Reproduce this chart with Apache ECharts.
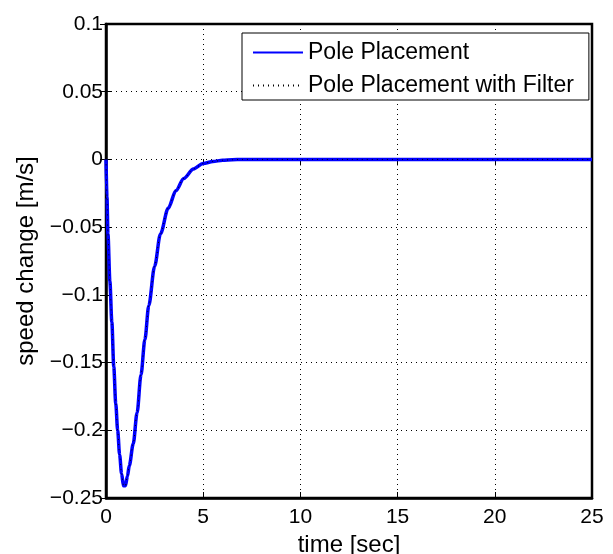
<!DOCTYPE html>
<html>
<head>
<meta charset="utf-8">
<script src="https://cdn.jsdelivr.net/npm/echarts@6/dist/echarts.min.js"></script>
<style>
  html, body { margin: 0; padding: 0; background: #fff; }
  #chart { width: 613px; height: 554px; }
</style>
</head>
<body>
<div id="chart"></div>
<script>
// values
var timeSec = [0, 0.05, 0.1, 0.2, 0.3, 0.4, 0.5, 0.6, 0.7, 0.8, 0.9, 1.0, 1.1, 1.2, 1.4, 1.6, 1.8, 2.0, 2.2, 2.5, 2.8, 3.2, 3.6, 4.0, 4.5, 5.0, 5.5, 6.0, 6.5, 7.0, 25]
var polePlacement = [0, -0.028, -0.055, -0.09, -0.12, -0.153, -0.18, -0.2, -0.218, -0.232, -0.241, -0.241, -0.234, -0.226, -0.21, -0.187, -0.159, -0.133, -0.108, -0.079, -0.055, -0.036, -0.023, -0.014, -0.007, -0.003, -0.0015, -0.0006, -0.0002, 0, 0]
var polePlacementFilter = [0, -0.028, -0.055, -0.09, -0.12, -0.153, -0.18, -0.2, -0.218, -0.232, -0.241, -0.241, -0.234, -0.226, -0.21, -0.187, -0.159, -0.133, -0.108, -0.079, -0.055, -0.036, -0.023, -0.014, -0.007, -0.003, -0.0015, -0.0006, -0.0002, 0, 0]
var seriesNames = ['Pole Placement', 'Pole Placement with Filter']

var font = 'Liberation Sans, Arial, Helvetica, sans-serif'

function pairs(xs, ys) {
  return xs.map(function (x, i) { return [x, ys[i]] })
}

function yLabel(v) {
  var s = String(Number(v.toFixed(2)))
  return s.replace('-', '\u2212')
}

var chart = echarts.init(document.getElementById('chart'))

var gridLine = {
  show: true,
  lineStyle: { color: '#000', width: 1, type: [1, 4] }
}
var innerTick = { show: true, inside: true, length: 6, lineStyle: { color: '#000', width: 1 } }

chart.setOption({
  animation: false,
  backgroundColor: '#fff',
  textStyle: { fontFamily: font },
  grid: {
    left: 106,
    right: 21,
    top: 24,
    bottom: 56,
    outerBoundsMode: 'none',
    containLabel: false,
    show: true,
    borderColor: '#000',
    borderWidth: 2.5
  },
  legend: {
    data: seriesNames,
    orient: 'vertical',
    left: 242,
    top: 33,
    padding: [8, 15, 3, 10],
    itemGap: 10,
    itemWidth: 50,
    itemHeight: 14,
    itemStyle: { opacity: 0, borderWidth: 0 },
    backgroundColor: '#fff',
    borderColor: '#000',
    borderWidth: 1,
    borderRadius: 0,
    textStyle: { color: '#000', fontSize: 23, fontFamily: font }
  },
  xAxis: [{
    type: 'value',
    min: 0,
    max: 25,
    interval: 5,
    name: 'time [sec]',
    nameLocation: 'middle',
    nameGap: 31,
    nameTextStyle: { color: '#000', fontSize: 24, fontFamily: font },
    axisLine: { show: true, onZero: false, lineStyle: { color: '#000', width: 2.5 } },
    axisTick: innerTick,
    axisLabel: { color: '#000', fontSize: 21, fontFamily: font, margin: 9 },
    splitLine: gridLine
  }, {
    type: 'value',
    position: 'top',
    min: 0,
    max: 25,
    interval: 5,
    axisLine: { show: false },
    axisTick: innerTick,
    axisLabel: { show: false },
    splitLine: { show: false }
  }],
  yAxis: [{
    type: 'value',
    min: -0.25,
    max: 0.1,
    interval: 0.05,
    name: 'speed change [m/s]',
    nameLocation: 'middle',
    nameGap: 68,
    nameRotate: 90,
    nameTextStyle: { color: '#000', fontSize: 24, fontFamily: font },
    axisLine: { show: true, onZero: false, lineStyle: { color: '#000', width: 2.5 } },
    axisTick: innerTick,
    axisLabel: { color: '#000', fontSize: 21, fontFamily: font, margin: 3, formatter: yLabel },
    splitLine: gridLine
  }, {
    type: 'value',
    position: 'right',
    min: -0.25,
    max: 0.1,
    interval: 0.05,
    axisLine: { show: false },
    axisTick: innerTick,
    axisLabel: { show: false },
    splitLine: { show: false }
  }],
  series: [{
    name: seriesNames[0],
    type: 'line',
    data: pairs(timeSec, polePlacement),
    symbol: 'none',
    smooth: 0.3,
    smoothMonotone: 'x',
    color: '#0000ff',
    lineStyle: { color: '#0000ff', width: 3.5 },
    z: 3
  }, {
    name: seriesNames[1],
    type: 'line',
    data: pairs(timeSec, polePlacementFilter),
    symbol: 'none',
    smooth: 0.3,
    smoothMonotone: 'x',
    color: '#000',
    lineStyle: { color: '#000', width: 1, type: [1, 4] },
    z: 4
  }]
})
</script>
</body>
</html>
